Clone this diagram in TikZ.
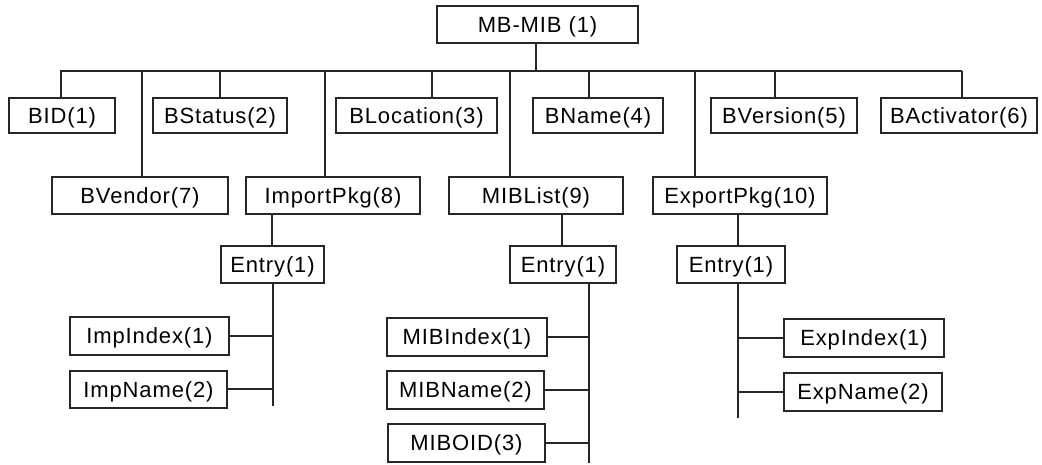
\documentclass[tikz,border=0pt]{standalone}
\usepackage{fontspec}
\setmainfont{Liberation Sans}[LetterSpace=4]
\begin{document}
\begin{tikzpicture}[x=1pt,y=-1pt,
  box/.style={draw=black!85, line width=1.3pt, inner sep=0pt,
    text height=15.5pt, text depth=0pt, minimum height=37pt,
    font=\fontsize{22}{26}\selectfont},
  link/.style={draw=black!85, line width=1.3pt}]
\useasboundingbox (0,0) rectangle (1042,464);

% root
\node[box, minimum width=201pt] (root) at (537.5,24.5) {MB-MIB (1)};

% first row of children
\node[box, minimum width=106pt, minimum height=35pt] (bid)   at (62,115.5)  {BID(1)};
\node[box, minimum width=134pt, minimum height=35pt] (bstat) at (220,115.5) {BStatus(2)};
\node[box, minimum width=161pt, minimum height=35pt] (bloc)  at (416.5,115.5) {BLocation(3)};
\node[box, minimum width=130pt, minimum height=35pt] (bname) at (598,115.5) {BName(4)};
\node[box, minimum width=146pt, minimum height=35pt] (bver)  at (784,115.5) {BVersion(5)};
\node[box, minimum width=156pt, minimum height=35pt] (bact)  at (959,115.5) {BActivator(6)};

% second row of children
\node[box, minimum width=176pt] (bvend) at (140,195.5) {BVendor(7)};
\node[box, minimum width=174pt] (imp)   at (333,195.5) {ImportPkg(8)};
\node[box, minimum width=174pt] (mibl)  at (536,195.5) {MIBList(9)};
\node[box, minimum width=174pt] (exp)   at (740,195.5) {ExportPkg(10)};

% entries
\node[box, minimum width=103pt] (impe) at (272.5,264.5) {Entry(1)};
\node[box, minimum width=106pt] (mibe) at (563,264.5)   {Entry(1)};
\node[box, minimum width=108pt] (expe) at (731,264.5)   {Entry(1)};

% leaves
\node[box, minimum width=159pt, minimum height=38pt] (impidx)  at (149.5,336) {ImpIndex(1)};
\node[box, minimum width=157pt] (impnam)  at (148.5,389.5) {ImpName(2)};
\node[box, minimum width=160pt, minimum height=38pt] (mibidx)  at (467,337)   {MIBIndex(1)};
\node[box, minimum width=157pt, minimum height=38pt] (mibnam)  at (465.5,390) {MIBName(2)};
\node[box, minimum width=157pt, minimum height=38pt] (miboid)  at (466.5,443) {MIBOID(3)};
\node[box, minimum width=160pt, minimum height=38pt] (expidx)  at (864,338)   {ExpIndex(1)};
\node[box, minimum width=158pt, minimum height=38pt] (expnam)  at (863,392)   {ExpName(2)};

% bus under the root
\coordinate (busL) at (60,71);
\coordinate (busR) at (962,71);
\draw[link] (busL) -- (busR);
\draw[link] ([xshift=-1.5pt]root.south) -- ([xshift=-1.5pt]root.south |- busL);

% drops from the bus
\draw[link] ([xshift=-1pt]bid.north) -- ([xshift=-1pt]bid.north |- busL);
\draw[link] (bstat.north) -- (bstat.north |- busL);
\draw[link] ([xshift=15.5pt]bloc.north) -- ([xshift=15.5pt]bloc.north |- busL);
\draw[link] ([xshift=-9pt]bname.north) -- ([xshift=-9pt]bname.north |- busL);
\draw[link] ([xshift=-9pt]bver.north) -- ([xshift=-9pt]bver.north |- busL);
\draw[link] ([xshift=3pt]bact.north) -- ([xshift=3pt]bact.north |- busL);
\draw[link] ([xshift=2pt]bvend.north) -- ([xshift=2pt]bvend.north |- busL);
\draw[link] ([xshift=-8pt]imp.north) -- ([xshift=-8pt]imp.north |- busL);
\draw[link] ([xshift=-26pt]mibl.north) -- ([xshift=-26pt]mibl.north |- busL);
\draw[link] ([xshift=-45pt]exp.north) -- ([xshift=-45pt]exp.north |- busL);

% packages to entries
\draw[link] ([xshift=-0.5pt]impe.north) -- ([xshift=-0.5pt]impe.north |- imp.south);
\draw[link] ([xshift=-1pt]mibe.north) -- ([xshift=-1pt]mibe.north |- mibl.south);
\draw[link] ([xshift=7pt]expe.north) -- ([xshift=7pt]expe.north |- exp.south);

% entry trunks
\coordinate (impend) at (273,406);
\coordinate (mibend) at (589,463);
\coordinate (expend) at (738,418);
\draw[link] (impe.south -| impend) -- (impend);
\draw[link] (mibe.south -| mibend) -- (mibend);
\draw[link] (expe.south -| expend) -- (expend);

% leaf branches
\draw[link] (impidx.east) -- (impidx.east -| impend);
\draw[link] ([yshift=0.5pt]impnam.east) -- ([yshift=0.5pt]impnam.east -| impend);
\draw[link] (mibidx.east) -- (mibidx.east -| mibend);
\draw[link] (mibnam.east) -- (mibnam.east -| mibend);
\draw[link] (miboid.east) -- (miboid.east -| mibend);
\draw[link] (expidx.west) -- (expidx.west -| expend);
\draw[link] (expnam.west) -- (expnam.west -| expend);
\end{tikzpicture}
\end{document}
